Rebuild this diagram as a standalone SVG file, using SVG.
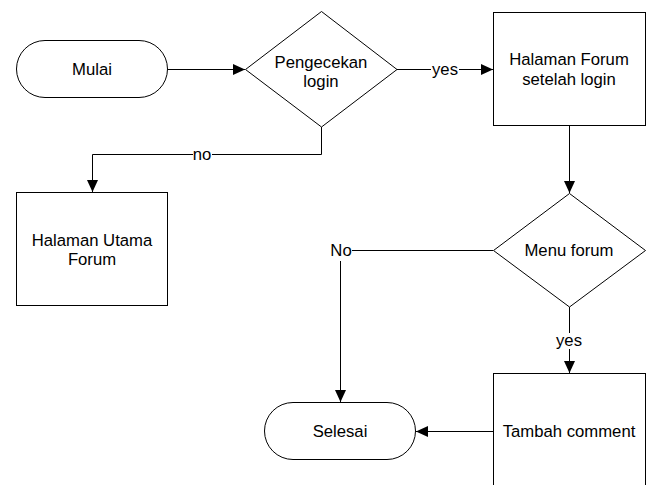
<svg xmlns="http://www.w3.org/2000/svg" width="647" height="485" viewBox="0 0 647 485">
  <style>
    .shape { fill: #ffffff; stroke: #000000; stroke-width: 1; }
    .edge { fill: none; stroke: #000000; stroke-width: 1; }
    .label { font-family: "Liberation Sans", Arial, sans-serif; font-size: 16.7px; fill: #000000; text-anchor: middle; }
  </style>
  <defs>
    <marker id="arrow" markerUnits="userSpaceOnUse" markerWidth="12" markerHeight="11" refX="12" refY="5.5" orient="auto">
      <path d="M0,0 L12,5.5 L0,11 z" fill="#000000"/>
    </marker>
  </defs>
  <rect width="647" height="485" fill="#ffffff"/>

  <g id="connectors">
    <!-- Mulai -> Pengecekan login -->
    <path class="edge" d="M168,69.5 H245" marker-end="url(#arrow)"/>
    <!-- yes -> Halaman Forum setelah login -->
    <path class="edge" d="M397,69.5 H431"/>
    <path class="edge" d="M459,69.5 H493" marker-end="url(#arrow)"/>
    <text class="label" x="445" y="75">yes</text>
    <!-- no -> Halaman Utama Forum -->
    <path class="edge" d="M321.5,127 V154.5 H212"/>
    <path class="edge" d="M193,154.5 H92.5 V192" marker-end="url(#arrow)"/>
    <text class="label" x="202" y="159.5">no</text>
    <!-- Halaman Forum setelah login -> Menu forum -->
    <path class="edge" d="M569.5,126 V193" marker-end="url(#arrow)"/>
    <!-- Menu forum: No -> Selesai -->
    <path class="edge" d="M493,250.5 H352"/>
    <path class="edge" d="M340.5,261 V402" marker-end="url(#arrow)"/>
    <text class="label" x="341" y="255.5">No</text>
    <!-- Menu forum: yes -> Tambah comment -->
    <path class="edge" d="M569.5,307 V333"/>
    <path class="edge" d="M569.5,349 V373" marker-end="url(#arrow)"/>
    <text class="label" x="569" y="346">yes</text>
    <!-- Tambah comment -> Selesai -->
    <path class="edge" d="M493,431.5 H416" marker-end="url(#arrow)"/>
  </g>

  <g id="mulai">
    <rect class="shape" x="16.5" y="40.5" width="151" height="57" rx="28.5" ry="28.5"/>
    <text class="label" x="92" y="74.5">Mulai</text>
  </g>

  <g id="pengecekan-login">
    <polygon class="shape" points="321.5,11.5 397,69.5 321.5,127 245.5,69.5"/>
    <text class="label" x="321" y="68">Pengecekan</text>
    <text class="label" x="321" y="87">login</text>
  </g>

  <g id="halaman-forum">
    <rect class="shape" x="493.5" y="12.5" width="152" height="113"/>
    <text class="label" x="569" y="65">Halaman Forum</text>
    <text class="label" x="569" y="84.5">setelah login</text>
  </g>

  <g id="halaman-utama">
    <rect class="shape" x="16.5" y="192.5" width="151" height="113"/>
    <text class="label" x="92" y="245.5">Halaman Utama</text>
    <text class="label" x="92" y="265">Forum</text>
  </g>

  <g id="menu-forum">
    <polygon class="shape" points="569.5,193.5 645.5,250.5 569.5,307 493.5,250.5"/>
    <text class="label" x="569" y="255.5">Menu forum</text>
  </g>

  <g id="tambah-comment">
    <rect class="shape" x="493.5" y="373.5" width="152" height="130"/>
    <text class="label" x="569" y="436.5">Tambah comment</text>
  </g>

  <g id="selesai">
    <rect class="shape" x="264.5" y="402.5" width="151" height="57" rx="28.5" ry="28.5"/>
    <text class="label" x="340" y="436.5">Selesai</text>
  </g>
</svg>
